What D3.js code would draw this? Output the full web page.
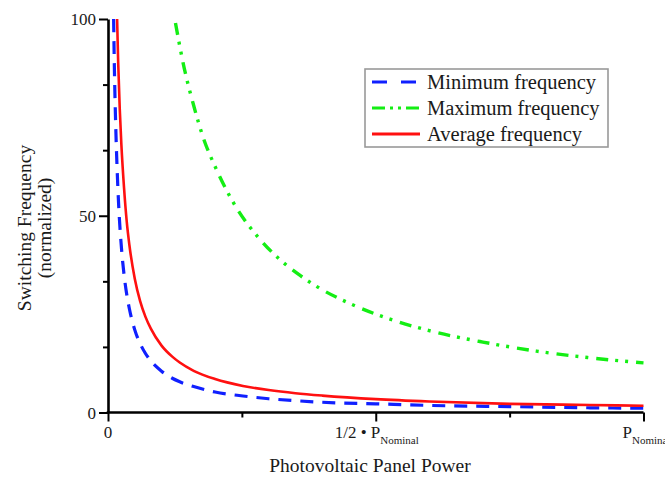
<!DOCTYPE html>
<html>
<head>
<meta charset="utf-8">
<script src="https://cdn.jsdelivr.net/npm/d3@7"></script>
<style>
  html, body { margin: 0; padding: 0; background: #fff; }
  svg { display: block; }
  text { font-family: "Liberation Serif", "Times New Roman", serif; fill: #1a1a1a; }
</style>
</head>
<body>
<svg id="chart" width="665" height="479"></svg>
<script>
// ---- Data ----
const seriesNames = ["Minimum frequency", "Maximum frequency", "Average frequency"];

const powerMin = [0.0105, 0.012, 0.014, 0.017, 0.02, 0.025, 0.03, 0.035, 0.04, 0.05, 0.06, 0.07, 0.08, 0.1, 0.12, 0.134, 0.16, 0.2, 0.252, 0.3, 0.35, 0.4, 0.5, 0.6, 0.75, 0.9, 1.0];
const freqMin  = [100, 87, 75, 62, 52.5, 42, 35, 30, 26.3, 21, 17.5, 15, 13.1, 10.5, 8.7, 7.8, 6.6, 5.2, 4.2, 3.5, 3.0, 2.6, 2.2, 1.8, 1.5, 1.2, 1.1];

const powerMax = [0.126, 0.14, 0.16, 0.18, 0.2, 0.24, 0.28, 0.32, 0.36, 0.4, 0.45, 0.5, 0.6, 0.7, 0.8, 0.9, 1.0];
const freqMax  = [99, 89, 78, 69, 62.5, 52, 44.6, 39, 34.7, 31.2, 27.8, 25, 20.8, 17.9, 15.6, 13.9, 12.6];

const powerAvg = [0.017, 0.019, 0.022, 0.025, 0.03, 0.035, 0.04, 0.05, 0.06, 0.07, 0.08, 0.1, 0.12, 0.134, 0.16, 0.2, 0.252, 0.3, 0.35, 0.4, 0.5, 0.6, 0.75, 0.9, 1.0];
const freqAvg  = [100, 89, 77, 68, 57, 48.5, 42.5, 34, 28.3, 24.3, 21.3, 17, 14.2, 12.7, 10.6, 8.5, 6.75, 5.7, 4.9, 4.3, 3.4, 2.8, 2.2, 1.9, 1.7];

const yMajorTicks = [0, 50, 100];
const yMinorTicks = [100/6, 200/6, 400/6, 500/6];
const xMajorTicks = [0, 0.5, 1];
const xMinorTicks = [0.25, 0.75];
const xTickMain = ["0", "1/2 \u2022 P", "P"];
const xTickSub  = ["", "Nominal", "Nominal"];
const xTitle = "Photovoltaic Panel Power";
const yTitle = ["Switching Frequency", "(normalized)"];

// ---- Layout ----
const svg = d3.select("#chart");
const x = d3.scaleLinear().domain([0, 1]).range([108, 643.5]);
const y = d3.scaleLinear().domain([0, 100]).range([412.5, 19]);

const colors = ["#1020ff", "#14ee14", "#ff1010"];
const dashes = ["13,9", "12,7,3,7,3,8", null];
const widths = [3.2, 3.4, 2.6];

svg.append("clipPath").attr("id", "clip")
  .append("rect").attr("x", x(0)).attr("y", y(100) - 1)
  .attr("width", x(1) - x(0) + 2).attr("height", y(0) - y(100) + 1);

const line = d3.line().x(d => x(d[0])).y(d => y(d[1])).curve(d3.curveMonotoneX);

const series = [
  d3.zip(powerMin, freqMin),
  d3.zip(powerMax, freqMax),
  d3.zip(powerAvg, freqAvg)
];

const gLines = svg.append("g").attr("clip-path", "url(#clip)");
series.forEach((s, i) => {
  gLines.append("path")
    .attr("d", line(s))
    .attr("fill", "none")
    .attr("stroke", colors[i])
    .attr("stroke-width", widths[i])
    .attr("stroke-dasharray", dashes[i]);
});

// ---- Axes ----
function styleAxis(g) {
  g.selectAll(".domain").attr("stroke", "#000").attr("stroke-width", 2.6);
  g.selectAll(".tick line").attr("stroke", "#000").attr("stroke-width", 2);
}

const yMinor = svg.append("g").attr("transform", `translate(${x(0)},0)`)
  .call(d3.axisLeft(y).tickValues(yMinorTicks).tickSize(5).tickSizeOuter(0).tickFormat(""));
yMinor.select(".domain").remove();
styleAxis(yMinor);

const yMajor = svg.append("g").attr("transform", `translate(${x(0)},0)`)
  .call(d3.axisLeft(y).tickValues(yMajorTicks).tickSize(9).tickSizeOuter(0).tickPadding(3).tickFormat(d3.format("d")));
styleAxis(yMajor);
yMajor.selectAll(".tick text")
  .style("font-family", "'Liberation Serif', serif")
  .attr("font-size", 17).attr("fill", "#1a1a1a").attr("dy", "0.34em");

const xMinor = svg.append("g").attr("transform", `translate(0,${y(0)})`)
  .call(d3.axisBottom(x).tickValues(xMinorTicks).tickSize(5).tickSizeOuter(0).tickFormat(""));
xMinor.select(".domain").remove();
styleAxis(xMinor);

const xMajor = svg.append("g").attr("transform", `translate(0,${y(0)})`)
  .call(d3.axisBottom(x).tickValues(xMajorTicks).tickSize(9).tickSizeOuter(0).tickFormat(""));
styleAxis(xMajor);
xMajor.select(".domain").attr("d", `M${x(0) - 1.3},0H${x(1)}`);

// x tick labels with subscripts
xMajorTicks.forEach((v, i) => {
  const t = svg.append("text")
    .attr("y", 438)
    .attr("font-size", 17);
  if (i === 2) {
    t.attr("x", x(v) - 21).attr("text-anchor", "start");
  } else {
    t.attr("x", x(v) + (i === 1 ? 1 : 0)).attr("text-anchor", "middle");
  }
  t.append("tspan").text(xTickMain[i]);
  if (xTickSub[i]) {
    t.append("tspan").attr("font-size", 11).attr("dy", 6).text(xTickSub[i]);
  }
});

// axis titles
svg.append("text")
  .attr("x", 370).attr("y", 472)
  .attr("text-anchor", "middle")
  .attr("font-size", 19.5)
  .text(xTitle);

yTitle.forEach((t, i) => {
  svg.append("text")
    .attr("transform", `translate(${i === 0 ? 31 : 51},228) rotate(-90)`)
    .attr("text-anchor", "middle")
    .attr("font-size", 19.5)
    .text(t);
});

// ---- Legend ----
const legend = svg.append("g");
legend.append("rect")
  .attr("x", 365).attr("y", 69).attr("width", 243).attr("height", 78)
  .attr("fill", "#fff").attr("stroke", "#999").attr("stroke-width", 1.6);

const legendDashes = ["15,14", "13,5,3,5,3,5", null];
seriesNames.forEach((name, i) => {
  const ly = 82 + i * 26;
  legend.append("line")
    .attr("x1", 372).attr("x2", 420).attr("y1", ly).attr("y2", ly)
    .attr("stroke", colors[i]).attr("stroke-width", 3)
    .attr("stroke-dasharray", legendDashes[i]);
  legend.append("text")
    .attr("x", 427).attr("y", ly + 6.5)
    .attr("font-size", 20.5)
    .text(name);
});
</script>
</body>
</html>
